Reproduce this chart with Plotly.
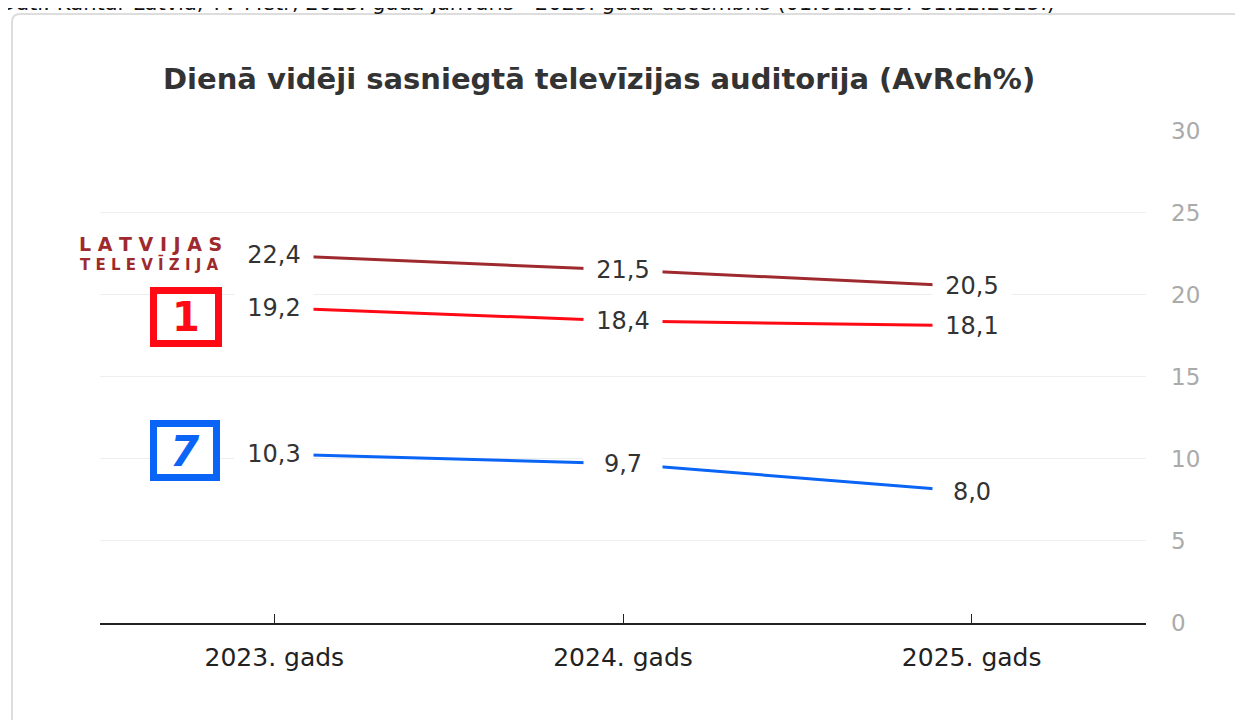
import plotly.graph_objects as go

categories = ["2023. gads", "2024. gads", "2025. gads"]
series_names = ["LTV", "LTV1", "LTV7"]
ltv = [22.4, 21.5, 20.5]
ltv1 = [19.2, 18.4, 18.1]
ltv7 = [10.3, 9.7, 8.0]
y_ticks = [0, 5, 10, 15, 20, 25, 30]

colors = {"LTV": "#9E2A2F", "LTV1": "#FF0A14", "LTV7": "#0A64F5"}
values = {"LTV": ltv, "LTV1": ltv1, "LTV7": ltv7}

FONT = "DejaVu Sans, Verdana, sans-serif"

W, H = 1243, 720
OFF = 8  # page body margin
# plot area in screen pixels
SL, SR, ST, SB = 100, 1146, 130, 623
L = SL - OFF
T = ST - OFF
pw = SR - SL
ph = SB - ST
R = W - L - pw
B = H - T - ph


def px(x):
    return (x - SL) / pw


def py(y):
    return (SB - y) / ph


fig = go.Figure()
for name in series_names:
    fig.add_trace(go.Scatter(
        x=categories, y=values[name], mode="lines", name=name,
        line=dict(color=colors[name], width=3), hoverinfo="skip",
    ))

annotations = []
for name in series_names:
    for c, v in zip(categories, values[name]):
        annotations.append(dict(
            x=c, y=v, xref="x", yref="y", text=f"{v:.1f}".replace(".", ","),
            showarrow=False, bgcolor="white", width=76, height=30,
            font=dict(family=FONT, size=24, color="#333333"),
        ))

# title
annotations.append(dict(
    x=px(599), y=py(79), xref="paper", yref="paper", xanchor="center", yanchor="middle",
    text="<b>Dienā vidēji sasniegtā televīzijas auditorija (AvRch%)</b>", showarrow=False,
    font=dict(family=FONT, size=29, color="#333333"),
))
# cropped source line at top
annotations.append(dict(
    x=px(-2), y=py(3), xref="paper", yref="paper", xanchor="left", yanchor="middle",
    text="Dati: Kantar Latvia, TV Metr, 2023. gada janvāris - 2025. gada decembris (01.01.2023.-31.12.2025.)",
    showarrow=False,
    font=dict(family=FONT, size=21, color="#111111"),
))
# LTV logo text
annotations.append(dict(
    x=px(150), y=py(244), xref="paper", yref="paper", xanchor="center", yanchor="middle",
    text="<b>L A T V I J A S</b>", showarrow=False,
    font=dict(family=FONT, size=19, color="#9E2A2F"),
))
annotations.append(dict(
    x=px(149), y=py(264), xref="paper", yref="paper", xanchor="center", yanchor="middle",
    text="<b>T E L E V Ī Z I J A</b>", showarrow=False,
    font=dict(family=FONT, size=15, color="#9E2A2F"),
))
# LTV1 logo digit
annotations.append(dict(
    x=px(186), y=py(317), xref="paper", yref="paper", xanchor="center", yanchor="middle",
    text="<b>1</b>", showarrow=False,
    font=dict(family=FONT, size=40, color="#FF0A14"),
))
# LTV7 logo digit
annotations.append(dict(
    x=px(185), y=py(451), xref="paper", yref="paper", xanchor="center", yanchor="middle",
    text="<b>7</b>", showarrow=False,
    font=dict(family=FONT, size=42, color="#0A64F5", style="italic"),
))

shapes = [
    # card border
    dict(type="path", xref="paper", yref="paper",
         path=f"M {px(12)},{py(740)} L {px(12)},{py(22)} Q {px(12)},{py(14)} {px(20)},{py(14)} L {px(1260)},{py(14)}",
         line=dict(color="#DDDDDD", width=2)),
    # LTV1 box
    dict(type="rect", xref="paper", yref="paper",
         x0=px(153.5), x1=px(218.5), y0=py(290.5), y1=py(343.5),
         line=dict(color="#FF0A14", width=7), fillcolor="white"),
    # LTV7 box
    dict(type="rect", xref="paper", yref="paper",
         x0=px(153.5), x1=px(216.5), y0=py(423.5), y1=py(477.5),
         line=dict(color="#0A64F5", width=7), fillcolor="white"),
]

fig.update_layout(
    width=W, height=H,
    margin=dict(l=L, r=R, t=T, b=B),
    paper_bgcolor="white", plot_bgcolor="white",
    showlegend=False,
    annotations=annotations,
    shapes=shapes,
    xaxis=dict(
        type="category", range=[-0.5, 2.5], showgrid=False,
        showline=True, linecolor="#222222", linewidth=1.5,
        ticks="inside", ticklen=9, tickcolor="#222222", tickwidth=1,
        tickfont=dict(family=FONT, size=25, color="#222222"),
        ticklabelstandoff=11,
    ),
    yaxis=dict(
        range=[0, 30.03], tickvals=y_ticks, side="right",
        showgrid=True, gridcolor="#EEEEEE", gridwidth=1, zeroline=False,
        showline=False, ticks="",
        tickfont=dict(family=FONT, size=23, color="#AAAAAA"),
        ticklabelstandoff=24,
    ),
)

fig.write_html("out.html")
